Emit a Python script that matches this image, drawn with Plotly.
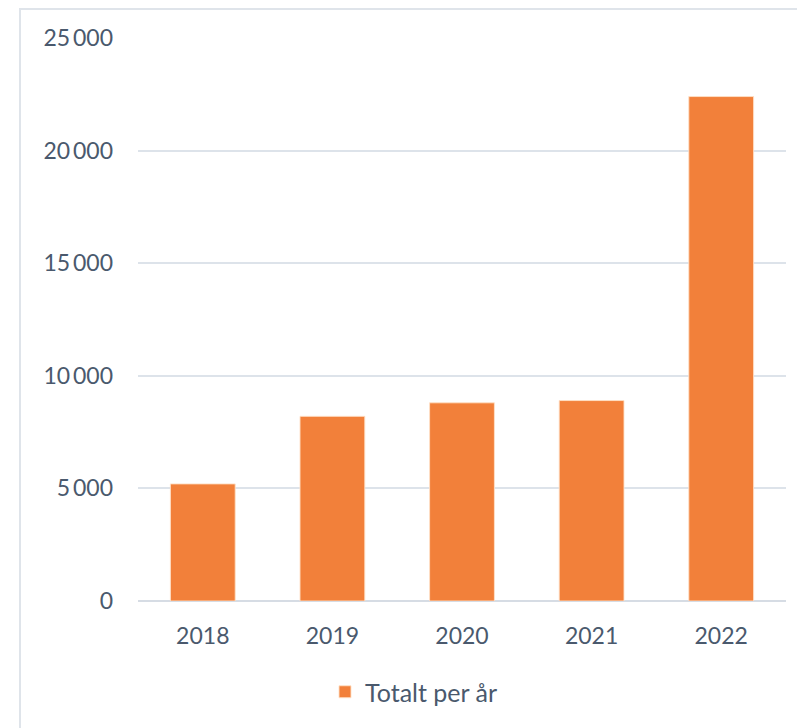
import plotly.graph_objects as go

years = ["2018", "2019", "2020", "2021", "2022"]
totals = [5200, 8200, 8800, 8900, 22400]
series_name = "Totalt per år"
y_ticks = [0, 5000, 10000, 15000, 20000, 25000]

# page body has an 8px margin; figure coordinates = reference coordinates - 8
OFF = 8
W, H = 805 - OFF, 728 - OFF
L, T = 138 - OFF, 38 - OFF
R = W - (786 - OFF)
B = H - (601 - OFF)
pw, ph = W - L - R, H - T - B

fig = go.Figure()
fig.add_trace(go.Bar(
    x=years, y=totals, name=series_name,
    marker=dict(color="#f2803a", line=dict(color="rgba(255,225,200,0.9)", width=1)),
    width=0.5, showlegend=True,
))

font_color = "#4a596d"
fig.update_layout(
    width=W, height=H,
    margin=dict(l=L, r=R, t=T, b=B, autoexpand=False),
    plot_bgcolor="white", paper_bgcolor="white",
    separators=",\u2009",
    font=dict(family="Lato", size=23, color=font_color),
    showlegend=True,
    legend=dict(orientation="h", x=(414 - 138) / pw, xanchor="center",
                y=(601 - 692) / ph, yanchor="middle",
                font=dict(size=25, color=font_color)),
    xaxis=dict(showgrid=False, showline=False, ticks="", tickfont=dict(size=23),
               ticklabelstandoff=19),
    yaxis=dict(range=[0, 25000], tickvals=y_ticks, tickformat=",d",
               showgrid=True, gridcolor="#dde3ea", gridwidth=2,
               zeroline=True, zerolinecolor="#d6dce4", zerolinewidth=2,
               showline=False, ticks="", ticklabelstandoff=24,
               tickfont=dict(size=23)),
    bargap=0.5,
)

# light frame around the chart (left and top edges visible)
fig.add_shape(type="rect", xref="paper", yref="paper",
              x0=(20 - 138) / pw, x1=(840 - 138) / pw,
              y0=(601 - 780) / ph, y1=(601 - 9) / ph,
              line=dict(color="#dfe4ea", width=2), fillcolor="rgba(0,0,0,0)",
              layer="below")

fig.write_html("out.html")
